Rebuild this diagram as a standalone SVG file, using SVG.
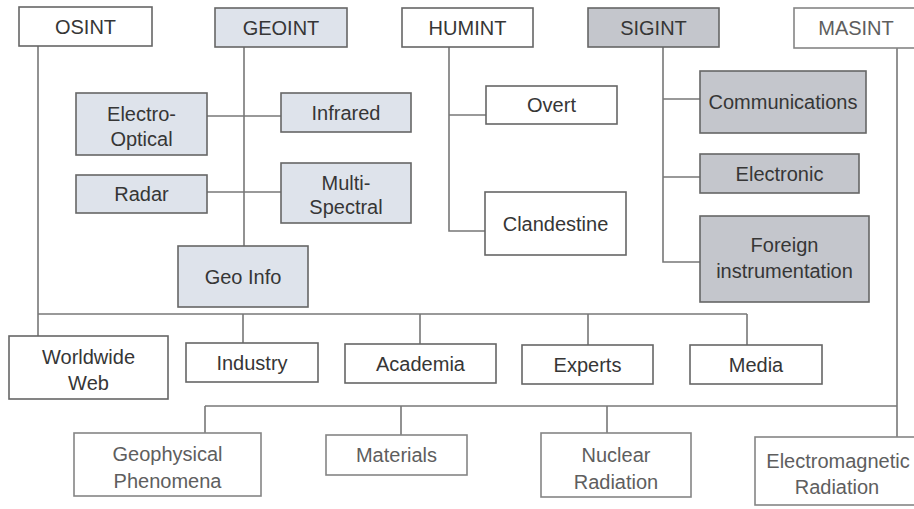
<svg xmlns="http://www.w3.org/2000/svg" width="914" height="509" viewBox="0 0 914 509">
  <style>
    .box { stroke: #666666; stroke-width: 1.6; fill: #ffffff; }
    .geo { fill: #dee3eb; }
    .sig { fill: #c4c6cc; }
    .mas { stroke: #858585; }
    .lbl { font-family: "Liberation Sans", Arial, sans-serif; font-size: 20px; fill: #363636; text-anchor: middle; }
    .lbl.light { fill: #5e5e5e; }
    .wire { stroke: #777777; stroke-width: 1.6; fill: none; }
  </style>
  <rect width="914" height="509" fill="#ffffff"/>

  <!-- connectors -->
  <g id="connectors" class="wire">
    <!-- OSINT trunk and bus -->
    <path d="M38 46 V336"/>
    <path d="M38 314 H747"/>
    <path d="M243 314 V343"/>
    <path d="M420 314 V344"/>
    <path d="M588 314 V345"/>
    <path d="M747 314 V345"/>
    <!-- GEOINT -->
    <path d="M244 47 V246"/>
    <path d="M207 116 H281"/>
    <path d="M207 192 H281"/>
    <!-- HUMINT -->
    <path d="M449 47 V231 H485"/>
    <path d="M449 115 H486"/>
    <!-- SIGINT -->
    <path d="M663 47 V262 H700"/>
    <path d="M663 99 H700"/>
    <path d="M663 177 H700"/>
    <!-- MASINT trunk and bus -->
    <path d="M897 48 V437"/>
    <path d="M205 406 H897"/>
    <path d="M205 406 V433"/>
    <path d="M401 406 V435"/>
    <path d="M607 406 V433"/>
  </g>

  <!-- top level disciplines -->
  <g id="osint"><rect class="box" x="19" y="7" width="133" height="39"/><text class="lbl" x="85.5" y="34">OSINT</text></g>
  <g id="geoint"><rect class="box geo" x="215" y="8" width="132" height="39"/><text class="lbl" x="281" y="35">GEOINT</text></g>
  <g id="humint"><rect class="box" x="402" y="8" width="131" height="39"/><text class="lbl" x="467.5" y="35">HUMINT</text></g>
  <g id="sigint"><rect class="box sig" x="588" y="8" width="131" height="39"/><text class="lbl" x="653.5" y="35">SIGINT</text></g>
  <g id="masint"><rect class="box mas" x="794" y="8" width="124" height="40"/><text class="lbl light" x="856" y="35">MASINT</text></g>

  <!-- GEOINT sources -->
  <g id="electro-optical"><rect class="box geo" x="76" y="93" width="131" height="62"/><text class="lbl" x="141.5" y="121">Electro-</text><text class="lbl" x="141.5" y="146">Optical</text></g>
  <g id="infrared"><rect class="box geo" x="281" y="93" width="130" height="39"/><text class="lbl" x="346" y="120">Infrared</text></g>
  <g id="radar"><rect class="box geo" x="76" y="175" width="131" height="38"/><text class="lbl" x="141.5" y="201">Radar</text></g>
  <g id="multi-spectral"><rect class="box geo" x="281" y="163" width="130" height="60"/><text class="lbl" x="346" y="190">Multi-</text><text class="lbl" x="346" y="214">Spectral</text></g>
  <g id="geo-info"><rect class="box geo" x="178" y="246" width="130" height="61"/><text class="lbl" x="243" y="284">Geo Info</text></g>

  <!-- HUMINT sources -->
  <g id="overt"><rect class="box" x="486" y="86" width="131" height="38"/><text class="lbl" x="551.5" y="112">Overt</text></g>
  <g id="clandestine"><rect class="box" x="485" y="192" width="141" height="63"/><text class="lbl" x="555.5" y="231">Clandestine</text></g>

  <!-- SIGINT sources -->
  <g id="communications"><rect class="box sig" x="700" y="71" width="166" height="62"/><text class="lbl" x="783" y="109">Communications</text></g>
  <g id="electronic"><rect class="box sig" x="700" y="154" width="159" height="39"/><text class="lbl" x="779.5" y="181">Electronic</text></g>
  <g id="foreign-instrumentation"><rect class="box sig" x="700" y="216" width="169" height="86"/><text class="lbl" x="784.5" y="252">Foreign</text><text class="lbl" x="784.5" y="278">instrumentation</text></g>

  <!-- OSINT sources -->
  <g id="worldwide-web"><rect class="box" x="9" y="336" width="159" height="63"/><text class="lbl" x="88.5" y="364">Worldwide</text><text class="lbl" x="88.5" y="390">Web</text></g>
  <g id="industry"><rect class="box" x="186" y="343" width="132" height="39"/><text class="lbl" x="252" y="370">Industry</text></g>
  <g id="academia"><rect class="box" x="345" y="344" width="151" height="39"/><text class="lbl" x="420.5" y="371">Academia</text></g>
  <g id="experts"><rect class="box" x="522" y="345" width="131" height="39"/><text class="lbl" x="587.5" y="372">Experts</text></g>
  <g id="media"><rect class="box" x="690" y="345" width="132" height="39"/><text class="lbl" x="756" y="372">Media</text></g>

  <!-- MASINT sources -->
  <g id="geophysical-phenomena"><rect class="box mas" x="74" y="433" width="187" height="63"/><text class="lbl light" x="167.5" y="461">Geophysical</text><text class="lbl light" x="167.5" y="488">Phenomena</text></g>
  <g id="materials"><rect class="box mas" x="326" y="435" width="141" height="40"/><text class="lbl light" x="396.5" y="462">Materials</text></g>
  <g id="nuclear-radiation"><rect class="box mas" x="541" y="433" width="150" height="64"/><text class="lbl light" x="616" y="462">Nuclear</text><text class="lbl light" x="616" y="489">Radiation</text></g>
  <g id="electromagnetic-radiation"><rect class="box mas" x="755" y="437" width="165" height="68"/><text class="lbl light" x="838" y="468">Electromagnetic</text><text class="lbl light" x="837" y="494">Radiation</text></g>
</svg>
